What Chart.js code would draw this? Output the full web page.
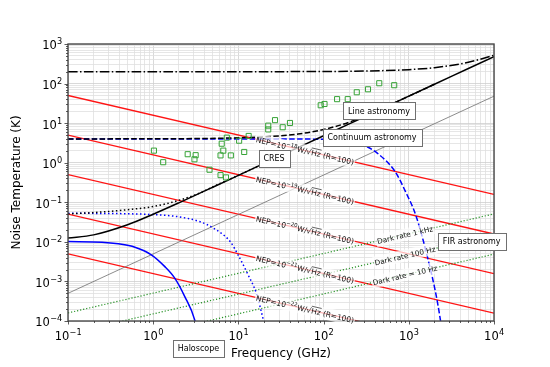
<!DOCTYPE html>
<html>
<head>
<meta charset="utf-8">
<script src="https://cdn.jsdelivr.net/npm/chart.js@4.4.1/dist/chart.umd.min.js"></script>
<style>
  html, body { margin: 0; padding: 0; background: #fff; }
  #chart { display: block; }
</style>
</head>
<body>
<canvas id="chart" width="550" height="367"></canvas>
<script>
// values: frequency in GHz, noise temperature in K

// NEP lines (R=100), straight in log-log
const nepFreq = [0.1, 10000];
const nep18 = [50, 0.158];
const nep19 = [5, 0.0158];
const nep20 = [0.5, 0.00158];
const nep21 = [0.05, 0.000158];
const nep22 = [0.005, 0.0000158];

// dark-rate lines
const darkFreq = [0.1, 10000];
const dark1k = [0.00016, 0.051];
const dark100 = [0.000048, 0.015];
const dark10 = [0.000015, 0.0049];

// thin grey reference line
const greyFreq = [0.1, 10000];
const greyTemp = [0.0005, 48];

// black curves
const blackFreq = [0.1, 0.2, 0.5, 1, 2, 5, 10, 20, 50, 100, 200, 500, 1000, 2000, 5000, 10000];
const blackSolid = [0.0125, 0.015, 0.027, 0.05, 0.097, 0.24, 0.48, 0.96, 2.4, 4.8, 9.6, 24, 48, 96, 240, 480];
const dottedFreq = [0.1, 0.2, 0.5, 1, 2, 3.5, 5, 10, 20];
const blackDotted = [0.051, 0.055, 0.065, 0.078, 0.112, 0.17, 0.245, 0.48, 0.96];
const dashedFreq = [0.1, 1, 10, 20, 50, 100, 200, 500, 1000, 2000];
const blackDashed = [4.0, 4.02, 4.25, 4.5, 5.3, 6.9, 10.6, 24.5, 48, 96];
const dashDotFreq = [0.1, 10, 100, 300, 1000, 2000, 5000, 10000];
const blackDashDot = [200, 200, 202, 207, 225, 252, 345, 520];

// blue curves
const blueSolidFreq = [0.1, 0.25, 0.39, 0.61, 0.95, 1.36, 1.79, 2.34, 3.07, 3.2];
const blueSolid = [0.0102, 0.0098, 0.0089, 0.0073, 0.0047, 0.0024, 0.00121, 0.00042, 0.000107, 0.00007];
const blueDottedFreq = [0.1, 0.77, 1.9, 3.5, 5.1, 8.0, 9.9, 13, 16.2, 19.6, 20.5];
const blueDotted = [0.053, 0.05, 0.0436, 0.0326, 0.0222, 0.0102, 0.0047, 0.00147, 0.00051, 0.000107, 0.00007];
const blueDashedFreq = [0.1, 10, 48, 91, 169, 290, 423, 689, 900, 1216, 1667, 2125, 2360, 2420];
const blueDashed = [4, 4, 3.99, 3.92, 3.77, 2.81, 1.77, 0.6, 0.2, 0.045, 0.0039, 0.00038, 0.0001, 0.00007];

// green squares
const sqFreq = [1.02, 1.31, 2.54, 3.05, 3.15, 4.58, 6.17, 6.17, 6.37, 6.65, 7.15, 7.31, 8.15, 10.2, 11.7, 13.2,
  22.4, 22.4, 26.9, 33.1, 40.3, 92.5, 102.5, 144, 192, 245, 332, 450, 674];
const sqTemp = [2.02, 1.03, 1.64, 1.22, 1.55, 0.665, 0.486, 1.53, 3.02, 2.02, 0.425, 4.30, 1.53, 3.60, 1.87, 4.75,
  6.93, 8.65, 11.9, 7.87, 10.1, 28.3, 30.5, 40.4, 40.4, 60.3, 71.8, 102, 91];

// annotation boxes
const boxText = ['Line astronomy', 'Continuum astronomy', 'CRES', 'FIR astronomy', 'Haloscope'];
const boxFreq = [447, 370, 26.2, 5470, 3.4];
const boxTemp = [20.3, 4.35, 1.3, 0.0102, 0.0000207];

const nepExp = ['18', '19', '20', '21', '22'];
const nepLabelFreq = 60.5;
const darkText = ['Dark rate 1 kHz', 'Dark rate 100 Hz', 'Dark rate = 10 Hz'];
const darkLabelFreq = 900;

const FONT = "'DejaVu Sans', sans-serif";
const MINUS = '\u2212';

function isDecade(v) {
  const l = Math.log10(v);
  return Math.abs(l - Math.round(l)) < 1e-6;
}

function logTicks(min, max) {
  const out = [];
  for (let e = Math.floor(Math.log10(min)); e <= Math.ceil(Math.log10(max)); e++) {
    for (let m = 1; m < 10; m++) {
      const v = Number((m * Math.pow(10, e)).toPrecision(6));
      if (v >= min * 0.999 && v <= max * 1.001) out.push(v);
    }
  }
  return out;
}

const pts = (xs, ys) => xs.map((x, i) => ({ x: x, y: ys[i] }));

function line(xs, ys, color, width, dash, order, smooth) {
  return {
    data: pts(xs, ys),
    borderColor: color,
    borderWidth: width,
    borderDash: dash,
    pointRadius: 0,
    showLine: true,
    fill: false,
    order: order,
    cubicInterpolationMode: smooth ? 'monotone' : 'default'
  };
}

const RED = 'rgba(255,0,0,0.92)';
const GREEN = 'rgba(0,128,0,0.85)';
const DASH = [5.5, 2.4];
const DOT = [1.5, 2.5];
const GDOT = [1.2, 1.9];

const datasets = [
  {
    data: pts(sqFreq, sqTemp),
    showLine: false,
    pointStyle: 'rect',
    pointRadius: 3.6,
    borderColor: '#36a336',
    backgroundColor: 'rgba(0,0,0,0)',
    borderWidth: 1,
    order: 1
  },
  line(dashDotFreq, blackDashDot, '#000', 1.5, [9.6, 2.4, 1.5, 2.4], 2, true),
  line(dashedFreq, blackDashed, '#000', 1.5, DASH, 2, true),
  line(dottedFreq, blackDotted, '#000', 1.5, DOT, 2, true),
  line(blackFreq, blackSolid, '#000', 1.5, [], 2, true),
  line(blueDashedFreq, blueDashed, '#0000ff', 1.5, DASH, 3, true),
  line(blueDottedFreq, blueDotted, '#0000ff', 1.5, DOT, 3, true),
  line(blueSolidFreq, blueSolid, '#0000ff', 1.5, [], 3, true),
  line(greyFreq, greyTemp, '#6e6e6e', 0.8, [], 4, false),
  line(darkFreq, dark1k, GREEN, 1.2, GDOT, 5, false),
  line(darkFreq, dark100, GREEN, 1.2, GDOT, 5, false),
  line(darkFreq, dark10, GREEN, 1.2, GDOT, 5, false),
  line(nepFreq, nep18, RED, 1.3, [], 6, false),
  line(nepFreq, nep19, RED, 1.3, [], 6, false),
  line(nepFreq, nep20, RED, 1.3, [], 6, false),
  line(nepFreq, nep21, RED, 1.3, [], 6, false),
  line(nepFreq, nep22, RED, 1.3, [], 6, false)
];

// text made of pieces: {t, sup, over}
function pieceFont(p, size) { return (p.sup ? size * 0.72 : size) + 'px ' + FONT; }
function piecesWidth(ctx, pieces, size) {
  let w = 0;
  pieces.forEach(p => { ctx.font = pieceFont(p, size); w += ctx.measureText(p.t).width; });
  return w;
}

// label sitting on a straight log-log line, rotated along it
function lineLabel(ctx, chart, xs, ys, f, pieces, size) {
  const sx = chart.scales.x, sy = chart.scales.y;
  const t = (Math.log10(f) - Math.log10(xs[0])) / (Math.log10(xs[1]) - Math.log10(xs[0]));
  const ly = Math.log10(ys[0]) + t * (Math.log10(ys[1]) - Math.log10(ys[0]));
  const px = sx.getPixelForValue(f), py = sy.getPixelForValue(Math.pow(10, ly));
  const ang = Math.atan2(sy.getPixelForValue(ys[1]) - sy.getPixelForValue(ys[0]),
    sx.getPixelForValue(xs[1]) - sx.getPixelForValue(xs[0]));
  ctx.save();
  ctx.translate(px, py);
  ctx.rotate(ang);
  const w = piecesWidth(ctx, pieces, size);
  ctx.fillStyle = 'rgba(255,255,255,0.7)';
  ctx.fillRect(-w / 2 - 1, -6, w + 2, 12);
  ctx.fillStyle = '#111';
  ctx.strokeStyle = '#111';
  ctx.textBaseline = 'alphabetic';
  ctx.textAlign = 'left';
  let x = -w / 2;
  const base = 3;
  pieces.forEach(p => {
    ctx.font = pieceFont(p, size);
    const pw = ctx.measureText(p.t).width;
    ctx.fillText(p.t, x, p.sup ? base - 3.5 : base);
    if (p.over) {
      ctx.lineWidth = 0.6;
      ctx.beginPath();
      ctx.moveTo(x - 0.5, base - 7.1);
      ctx.lineTo(x + pw, base - 7.1);
      ctx.stroke();
    }
    x += pw;
  });
  ctx.restore();
}

function textBox(ctx, chart, f, T, text) {
  const px = chart.scales.x.getPixelForValue(f), py = chart.scales.y.getPixelForValue(T);
  ctx.save();
  ctx.font = '8px ' + FONT;
  const w = Math.round(ctx.measureText(text).width + 10), h = 17;
  const x0 = Math.round(px - w / 2), y0 = Math.round(py - h / 2);
  ctx.fillStyle = '#fff';
  ctx.fillRect(x0, y0, w, h);
  ctx.strokeStyle = '#707070';
  ctx.lineWidth = 1;
  ctx.strokeRect(x0 + 0.5, y0 + 0.5, w, h);
  ctx.fillStyle = '#000';
  ctx.textAlign = 'center';
  ctx.textBaseline = 'middle';
  ctx.fillText(text, px, py + 0.5);
  ctx.restore();
}

// "10" with a raised exponent, like the mathtext tick labels
function powWidths(ctx, e) {
  ctx.font = '11.5px ' + FONT;
  const wb = ctx.measureText('10').width;
  ctx.font = '8.2px ' + FONT;
  const ws = ctx.measureText(e).width;
  return [wb, ws];
}
function drawPow(ctx, x, baseline, e) {
  ctx.font = '11.5px ' + FONT;
  ctx.fillText('10', x, baseline);
  const wb = ctx.measureText('10').width;
  ctx.font = '8.2px ' + FONT;
  ctx.fillText(e, x + wb + 0.3, baseline - 5);
}
function expText(v) {
  const n = Math.round(Math.log10(v));
  return n < 0 ? MINUS + String(-n) : String(n);
}

const overlay = {
  id: 'overlay',
  afterDatasetsDraw(chart) {
    const ctx = chart.ctx;
    const { left, right, top, bottom } = chart.chartArea;
    const sx = chart.scales.x, sy = chart.scales.y;

    // axes frame
    ctx.save();
    ctx.strokeStyle = '#4a4a4a';
    ctx.lineWidth = 1.4;
    ctx.strokeRect(left, top, right - left, bottom - top);

    // tick marks, outside
    ctx.strokeStyle = '#333';
    ctx.lineWidth = 0.8;
    ctx.beginPath();
    sx.ticks.forEach(t => {
      const p = Math.round(sx.getPixelForValue(t.value)) + 0.5;
      const len = isDecade(t.value) ? 3.5 : 2;
      ctx.moveTo(p, bottom);
      ctx.lineTo(p, bottom + len);
    });
    sy.ticks.forEach(t => {
      const p = Math.round(sy.getPixelForValue(t.value)) + 0.5;
      const len = isDecade(t.value) ? 3.5 : 2;
      ctx.moveTo(left, p);
      ctx.lineTo(left - len, p);
    });
    ctx.stroke();

    // tick labels
    ctx.fillStyle = '#000';
    ctx.textAlign = 'left';
    ctx.textBaseline = 'alphabetic';
    sx.ticks.filter(t => isDecade(t.value)).forEach(t => {
      const e = expText(t.value);
      const [wb, ws] = powWidths(ctx, e);
      drawPow(ctx, sx.getPixelForValue(t.value) - (wb + ws) / 2, bottom + 19, e);
    });
    sy.ticks.filter(t => isDecade(t.value)).forEach(t => {
      const e = expText(t.value);
      const [wb, ws] = powWidths(ctx, e);
      drawPow(ctx, left - 6 - (wb + ws), sy.getPixelForValue(t.value) + 5.4, e);
    });
    ctx.restore();

    const nepSets = [nep18, nep19, nep20, nep21, nep22];
    nepSets.forEach((ys, i) => {
      lineLabel(ctx, chart, nepFreq, ys, nepLabelFreq, [
        { t: 'NEP=10' }, { t: MINUS + nepExp[i], sup: true }, { t: 'W/\u221A' },
        { t: 'Hz', over: true }, { t: ' (R=100)' }
      ], 7.5);
    });
    [dark1k, dark100, dark10].forEach((ys, i) => {
      lineLabel(ctx, chart, darkFreq, ys, darkLabelFreq, [{ t: darkText[i] }], 7.3);
    });

    boxText.forEach((s, i) => textBox(ctx, chart, boxFreq[i], boxTemp[i], s));
  }
};

const gridColor = (c) => (c.tick && isDecade(c.tick.value)) ? '#cfcfcf' : '#e0e0e0';

new Chart(document.getElementById('chart'), {
  type: 'scatter',
  data: { datasets: datasets },
  plugins: [overlay],
  options: {
    responsive: false,
    animation: false,
    devicePixelRatio: 1,
    layout: { padding: { left: 0, right: 56, top: 44, bottom: 0 } },
    plugins: { legend: { display: false }, tooltip: { enabled: false } },
    scales: {
      x: {
        type: 'logarithmic',
        min: 0.1,
        max: 10000,
        afterBuildTicks: (s) => { s.ticks = logTicks(0.1, 10000).map(v => ({ value: v })); },
        afterFit: (s) => { s.height = 46; },
        border: { display: false },
        grid: { color: gridColor, lineWidth: 0.8, drawTicks: false },
        ticks: { display: false, autoSkip: false },
        title: {
          display: true, text: 'Frequency (GHz)', color: '#000',
          font: { family: FONT, size: 12 }, padding: { top: 0, bottom: 6 }
        }
      },
      y: {
        type: 'logarithmic',
        min: 0.0001,
        max: 1000,
        afterBuildTicks: (s) => { s.ticks = logTicks(0.0001, 1000).map(v => ({ value: v })); },
        afterFit: (s) => { s.width = 68; },
        border: { display: false },
        grid: { color: gridColor, lineWidth: 0.8, drawTicks: false },
        ticks: { display: false, autoSkip: false },
        title: {
          display: true, text: 'Noise Temperature (K)', color: '#000',
          font: { family: FONT, size: 12 }, padding: { top: 10, bottom: 0 }
        }
      }
    }
  }
});
</script>
</body>
</html>
